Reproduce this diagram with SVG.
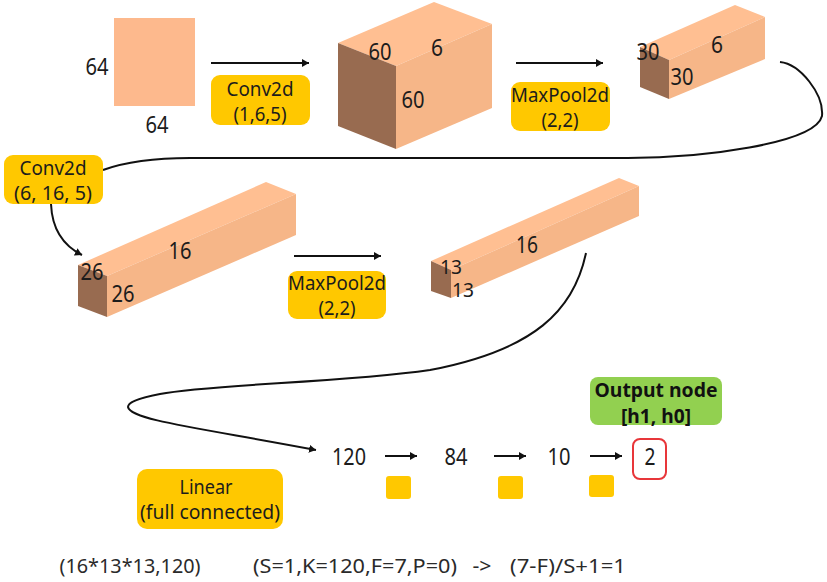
<svg xmlns="http://www.w3.org/2000/svg" width="827" height="582" viewBox="0 0 827 582">
<style>
text{font-family:"Noto Sans","Open Sans","Liberation Sans",sans-serif;font-size:23px;fill:#1c1c1c;text-anchor:middle}
.s{font-size:20px}
.n{font-size:20px}
.f{font-size:20px;fill:#2a2a2a}
.b{font-size:19px;font-weight:700;fill:#111}
.sq{fill:#fdb98d}.top{fill:#ffbf92}.right{fill:#f6b688}.left{fill:#986b50}
.lab{fill:#ffc800}
.line{fill:none;stroke:#111;stroke-width:2}
.thin{fill:none;stroke:#111;stroke-width:2}
</style>
<defs>
<marker id="a" markerUnits="userSpaceOnUse" markerWidth="9" markerHeight="9" refX="7" refY="4" orient="auto"><path d="M0 0L7 4L0 8Z" fill="#111"/></marker>
</defs>
<rect width="827" height="582" fill="#fff"/>
<g id="connectors">
<path class="thin" marker-end="url(#a)" d="M211 63H309"/>
<path class="thin" marker-end="url(#a)" d="M516 63H603"/>
<path class="thin" marker-end="url(#a)" d="M294 256H381"/>
<path class="thin" marker-end="url(#a)" d="M385 456H417"/>
<path class="thin" marker-end="url(#a)" d="M494 456H526"/>
<path class="thin" marker-end="url(#a)" d="M590 456H622"/>
<path class="line" d="M780 62C800 64 824 94 822 116C815 144 700 158 628 158H190C150 158 125 162 103 170"/>
<path class="line" marker-end="url(#a)" d="M51 204C52 228 62 245 82 255"/>
<path class="line" marker-end="url(#a)" d="M586 253C574 310 535 350 430 370C340 383 210 384 160 394C135 399 128 403 128 407C130 420 200 428 316 450"/>
</g>
<g id="input"><rect x="114" y="18" width="81" height="88" class="sq"/><text x="97" y="75" textLength="23" lengthAdjust="spacingAndGlyphs">64</text><text x="157" y="133" textLength="23" lengthAdjust="spacingAndGlyphs">64</text></g>
<g id="cube1"><path class="top" d="M338 43L434 2L492 24L396 66Z"/><path class="right" d="M396 66L492 24V108L396 149Z"/><path class="left" d="M338 43L396 66V149L338 126Z"/><text x="380" y="60" textLength="23" lengthAdjust="spacingAndGlyphs">60</text><text x="437" y="56" textLength="12" lengthAdjust="spacingAndGlyphs">6</text><text x="413" y="108" textLength="23" lengthAdjust="spacingAndGlyphs">60</text></g>
<g id="box2"><path class="top" d="M640 47L735 5L765 17L669 60Z"/><path class="right" d="M669 60L765 17V59L669 99Z"/><path class="left" d="M640 47L669 60V99L640 87Z"/><text x="648" y="60" textLength="23" lengthAdjust="spacingAndGlyphs">30</text><text x="717" y="53" textLength="12" lengthAdjust="spacingAndGlyphs">6</text><text x="682" y="85" textLength="23" lengthAdjust="spacingAndGlyphs">30</text></g>
<g id="box3"><path class="top" d="M78 265L266 182L296 194L107 276Z"/><path class="right" d="M107 276L296 194V235L107 317Z"/><path class="left" d="M78 265L107 276V317L78 306Z"/><text x="92" y="280" textLength="23" lengthAdjust="spacingAndGlyphs">26</text><text x="180" y="259" textLength="23" lengthAdjust="spacingAndGlyphs">16</text><text x="123" y="302" textLength="23" lengthAdjust="spacingAndGlyphs">26</text></g>
<g id="box4"><path class="top" d="M431 261L619 178L639 186L451 270Z"/><path class="right" d="M451 270L639 186V216L451 298Z"/><path class="left" d="M431 261L451 270V298L431 291Z"/><text class="n" x="451" y="274" textLength="22" lengthAdjust="spacingAndGlyphs">13</text><text class="n" x="463" y="297" textLength="22" lengthAdjust="spacingAndGlyphs">13</text><text x="527" y="253" textLength="22" lengthAdjust="spacingAndGlyphs">16</text></g>
<g id="conv1"><rect class="lab" x="211" y="75" width="99" height="50" rx="9"/><text class="s" x="260" y="96" textLength="67" lengthAdjust="spacingAndGlyphs">Conv2d</text><text class="s" x="260" y="121" textLength="53" lengthAdjust="spacingAndGlyphs">(1,6,5)</text></g>
<g id="pool1"><rect class="lab" x="511" y="82" width="99" height="49" rx="9"/><text class="s" x="560" y="102" textLength="98" lengthAdjust="spacingAndGlyphs">MaxPool2d</text><text class="s" x="560" y="127" textLength="37" lengthAdjust="spacingAndGlyphs">(2,2)</text></g>
<g id="conv2"><rect class="lab" x="4" y="155" width="99" height="49" rx="9"/><text class="s" x="53" y="175" textLength="67" lengthAdjust="spacingAndGlyphs">Conv2d</text><text class="s" x="53" y="200" textLength="78" lengthAdjust="spacingAndGlyphs">(6, 16, 5)</text></g>
<g id="pool2"><rect class="lab" x="288" y="271" width="98" height="48" rx="9"/><text class="s" x="337" y="290" textLength="98" lengthAdjust="spacingAndGlyphs">MaxPool2d</text><text class="s" x="337" y="315" textLength="37" lengthAdjust="spacingAndGlyphs">(2,2)</text></g>
<g id="linear"><rect class="lab" x="137" y="469" width="146" height="60" rx="10"/><text class="s" x="206" y="494" textLength="53" lengthAdjust="spacingAndGlyphs">Linear</text><text class="s" x="210" y="519" textLength="140" lengthAdjust="spacingAndGlyphs">(full connected)</text></g>
<g id="n120"><text x="349" y="465" textLength="34" lengthAdjust="spacingAndGlyphs">120</text></g>
<g id="n84"><text x="456" y="465" textLength="23" lengthAdjust="spacingAndGlyphs">84</text></g>
<g id="n10"><text x="559" y="465" textLength="23" lengthAdjust="spacingAndGlyphs">10</text></g>
<g id="out"><rect x="633" y="439" width="33" height="40" rx="7" fill="#fff" stroke="#e8363a" stroke-width="2"/><text x="650" y="465" textLength="11" lengthAdjust="spacingAndGlyphs">2</text></g>
<g id="s1"><rect class="lab" x="386" y="476" width="25" height="23" rx="3"/></g>
<g id="s2"><rect class="lab" x="498" y="476" width="25" height="23" rx="3"/></g>
<g id="s3"><rect class="lab" x="589" y="475" width="25" height="22" rx="3"/></g>
<g id="output-node"><rect x="590" y="377" width="132" height="48" rx="8" fill="#92d050"/><text class="b" x="656" y="397" textLength="123" lengthAdjust="spacingAndGlyphs">Output node</text><text class="b" x="656" y="423" textLength="70" lengthAdjust="spacingAndGlyphs">[h1, h0]</text></g>
<g id="formula"><text class="f" x="130" y="573" textLength="141" lengthAdjust="spacingAndGlyphs">(16*13*13,120)</text><text class="f" x="355" y="573" textLength="204" lengthAdjust="spacingAndGlyphs">(S=1,K=120,F=7,P=0)</text><text class="f" x="482" y="573" textLength="19" lengthAdjust="spacingAndGlyphs">-&gt;</text><text class="f" x="568" y="573" textLength="116" lengthAdjust="spacingAndGlyphs">(7-F)/S+1=1</text></g>
</svg>
